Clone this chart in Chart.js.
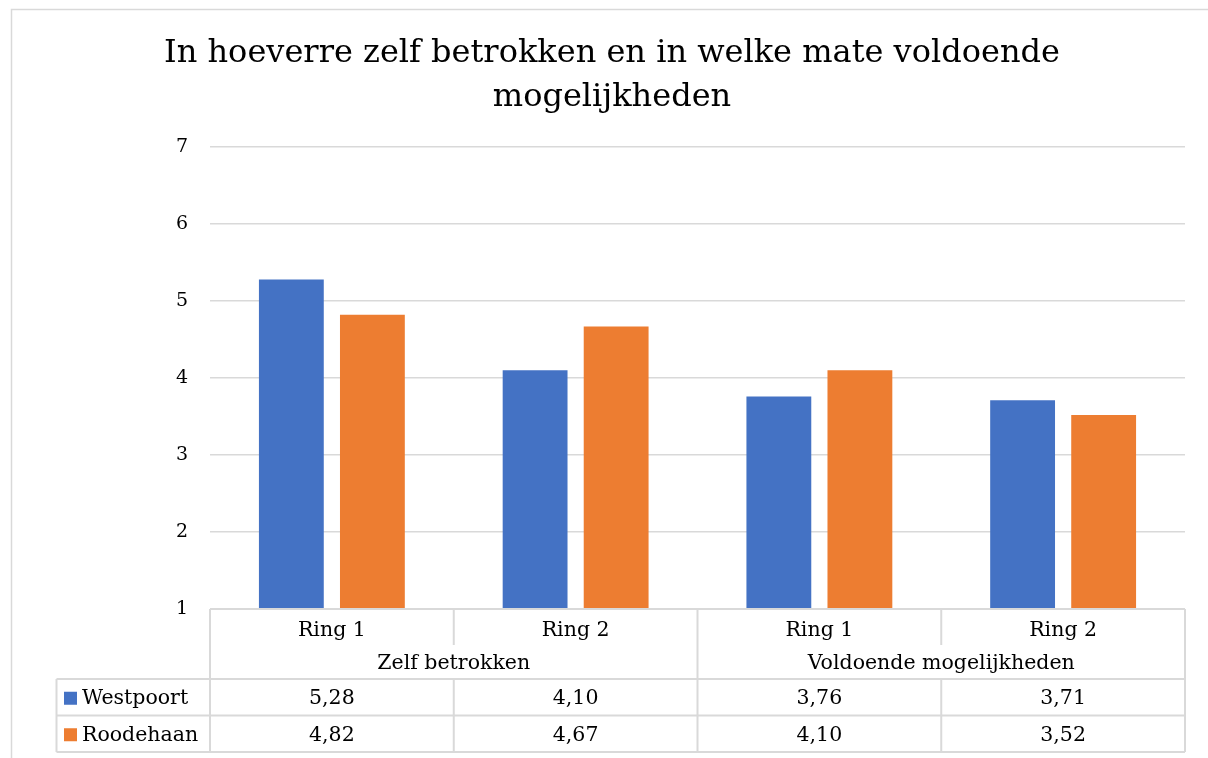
<!DOCTYPE html>
<html>
<head>
<meta charset="utf-8">
<script src="https://cdn.jsdelivr.net/npm/chart.js@4"></script>
<style>
  html, body { margin: 0; padding: 0; background: #ffffff; }
  #wrap { width: 1208px; height: 758px; position: relative; }
</style>
</head>
<body>
<div id="wrap"><canvas id="c" width="1208" height="758"></canvas></div>
<script>
const titleLines = ['In hoeverre zelf betrokken en in welke mate voldoende', 'mogelijkheden'];
const categories = ['Ring 1', 'Ring 2', 'Ring 1', 'Ring 2'];
const groups = ['Zelf betrokken', 'Voldoende mogelijkheden'];
const seriesNames = ['Westpoort', 'Roodehaan'];
const westpoort = [5.28, 4.10, 3.76, 3.71];
const roodehaan = [4.82, 4.67, 4.10, 3.52];
const yMin = 1, yMax = 7;

const colors = ['#4472C4', '#ED7D31'];
const gridColor = '#d9d9d9';
const serif = '"DejaVu Serif", "Liberation Serif", serif';

const fmt = v => v.toFixed(2).replace('.', ',');

const tablePlugin = {
  id: 'dataTable',
  beforeDraw(chart) {
    const ctx = chart.ctx;
    ctx.save();
    ctx.fillStyle = '#ffffff';
    ctx.fillRect(0, 0, chart.width, chart.height);
    ctx.strokeStyle = gridColor;
    ctx.lineWidth = 1.5;
    ctx.strokeRect(11.5, 9.5, 1400, 1000);
    ctx.restore();
  },
  afterDraw(chart) {
    const ctx = chart.ctx;
    const x = chart.scales.x;
    const area = chart.chartArea;
    const n = categories.length;
    const top = area.bottom;
    const rowCat = top + 36;
    const rowGrp = top + 70;
    const rowH = 36.5;
    const legLeft = 56.5;
    const bounds = [];
    for (let i = 0; i <= n; i++) bounds.push(x.getPixelForValue(i - 0.5));

    ctx.save();
    ctx.strokeStyle = gridColor;
    ctx.lineWidth = 2;
    ctx.beginPath();
    ctx.moveTo(bounds[0], top); ctx.lineTo(bounds[n], top);
    for (let r = 0; r <= 2; r++) {
      const yy = rowGrp + r * rowH;
      ctx.moveTo(legLeft, yy); ctx.lineTo(bounds[n], yy);
    }
    for (let i = 0; i <= n; i++) {
      const full = (i === 0 || i === n || i === n / 2);
      ctx.moveTo(bounds[i], top);
      ctx.lineTo(bounds[i], full ? rowGrp + 2 * rowH : rowCat);
      if (!full) { ctx.moveTo(bounds[i], rowGrp); ctx.lineTo(bounds[i], rowGrp + 2 * rowH); }
    }
    ctx.moveTo(legLeft, rowGrp); ctx.lineTo(legLeft, rowGrp + 2 * rowH);
    ctx.stroke();

    ctx.fillStyle = '#000000';
    ctx.font = '20.5px ' + serif;
    ctx.textAlign = 'center';
    ctx.textBaseline = 'middle';
    for (let i = 0; i < n; i++) {
      const cx = x.getPixelForValue(i);
      ctx.fillText(categories[i], cx, top + 21.5);
      ctx.fillText(fmt(westpoort[i]), cx, rowGrp + rowH / 2 + 1.5);
      ctx.fillText(fmt(roodehaan[i]), cx, rowGrp + rowH * 1.5 + 1.5);
    }
    for (let g = 0; g < groups.length; g++) {
      const cx = (bounds[g * 2] + bounds[g * 2 + 2]) / 2;
      ctx.fillText(groups[g], cx, top + 54.5);
    }
    ctx.textAlign = 'left';
    for (let s = 0; s < seriesNames.length; s++) {
      const cy = rowGrp + rowH * (s + 0.5);
      ctx.fillStyle = colors[s];
      ctx.fillRect(64, cy - 5.5, 13, 13);
      ctx.fillStyle = '#000000';
      ctx.fillText(seriesNames[s], 82, cy + 1.5);
    }
    ctx.restore();
  }
};

new Chart(document.getElementById('c'), {
  type: 'bar',
  data: {
    labels: categories,
    datasets: [
      { label: seriesNames[0], data: westpoort, backgroundColor: colors[0], borderWidth: 0 },
      { label: seriesNames[1], data: roodehaan, backgroundColor: colors[1], borderWidth: 0 }
    ]
  },
  options: {
    responsive: false,
    animation: false,
    devicePixelRatio: 1,
    layout: { padding: { top: 10, left: 39, right: 23, bottom: 149 } },
    plugins: {
      legend: { display: false },
      tooltip: { enabled: false },
      title: {
        display: true,
        text: titleLines,
        color: '#000000',
        font: { family: serif, size: 32, weight: 'normal', lineHeight: 1.375 },
        padding: { top: 22, bottom: 27 }
      }
    },
    datasets: { bar: { barPercentage: 0.8, categoryPercentage: 0.665 } },
    scales: {
      x: { display: false, offset: true, grid: { display: false } },
      y: {
        min: yMin, max: yMax,
        border: { display: false },
        grid: { color: gridColor, lineWidth: 1.5, drawTicks: false },
        ticks: { stepSize: 1, color: '#000000', padding: 22, font: { family: serif, size: 19 } },
        afterFit(scale) { scale.width = 171; }
      }
    }
  },
  plugins: [tablePlugin]
});
</script>
</body>
</html>
